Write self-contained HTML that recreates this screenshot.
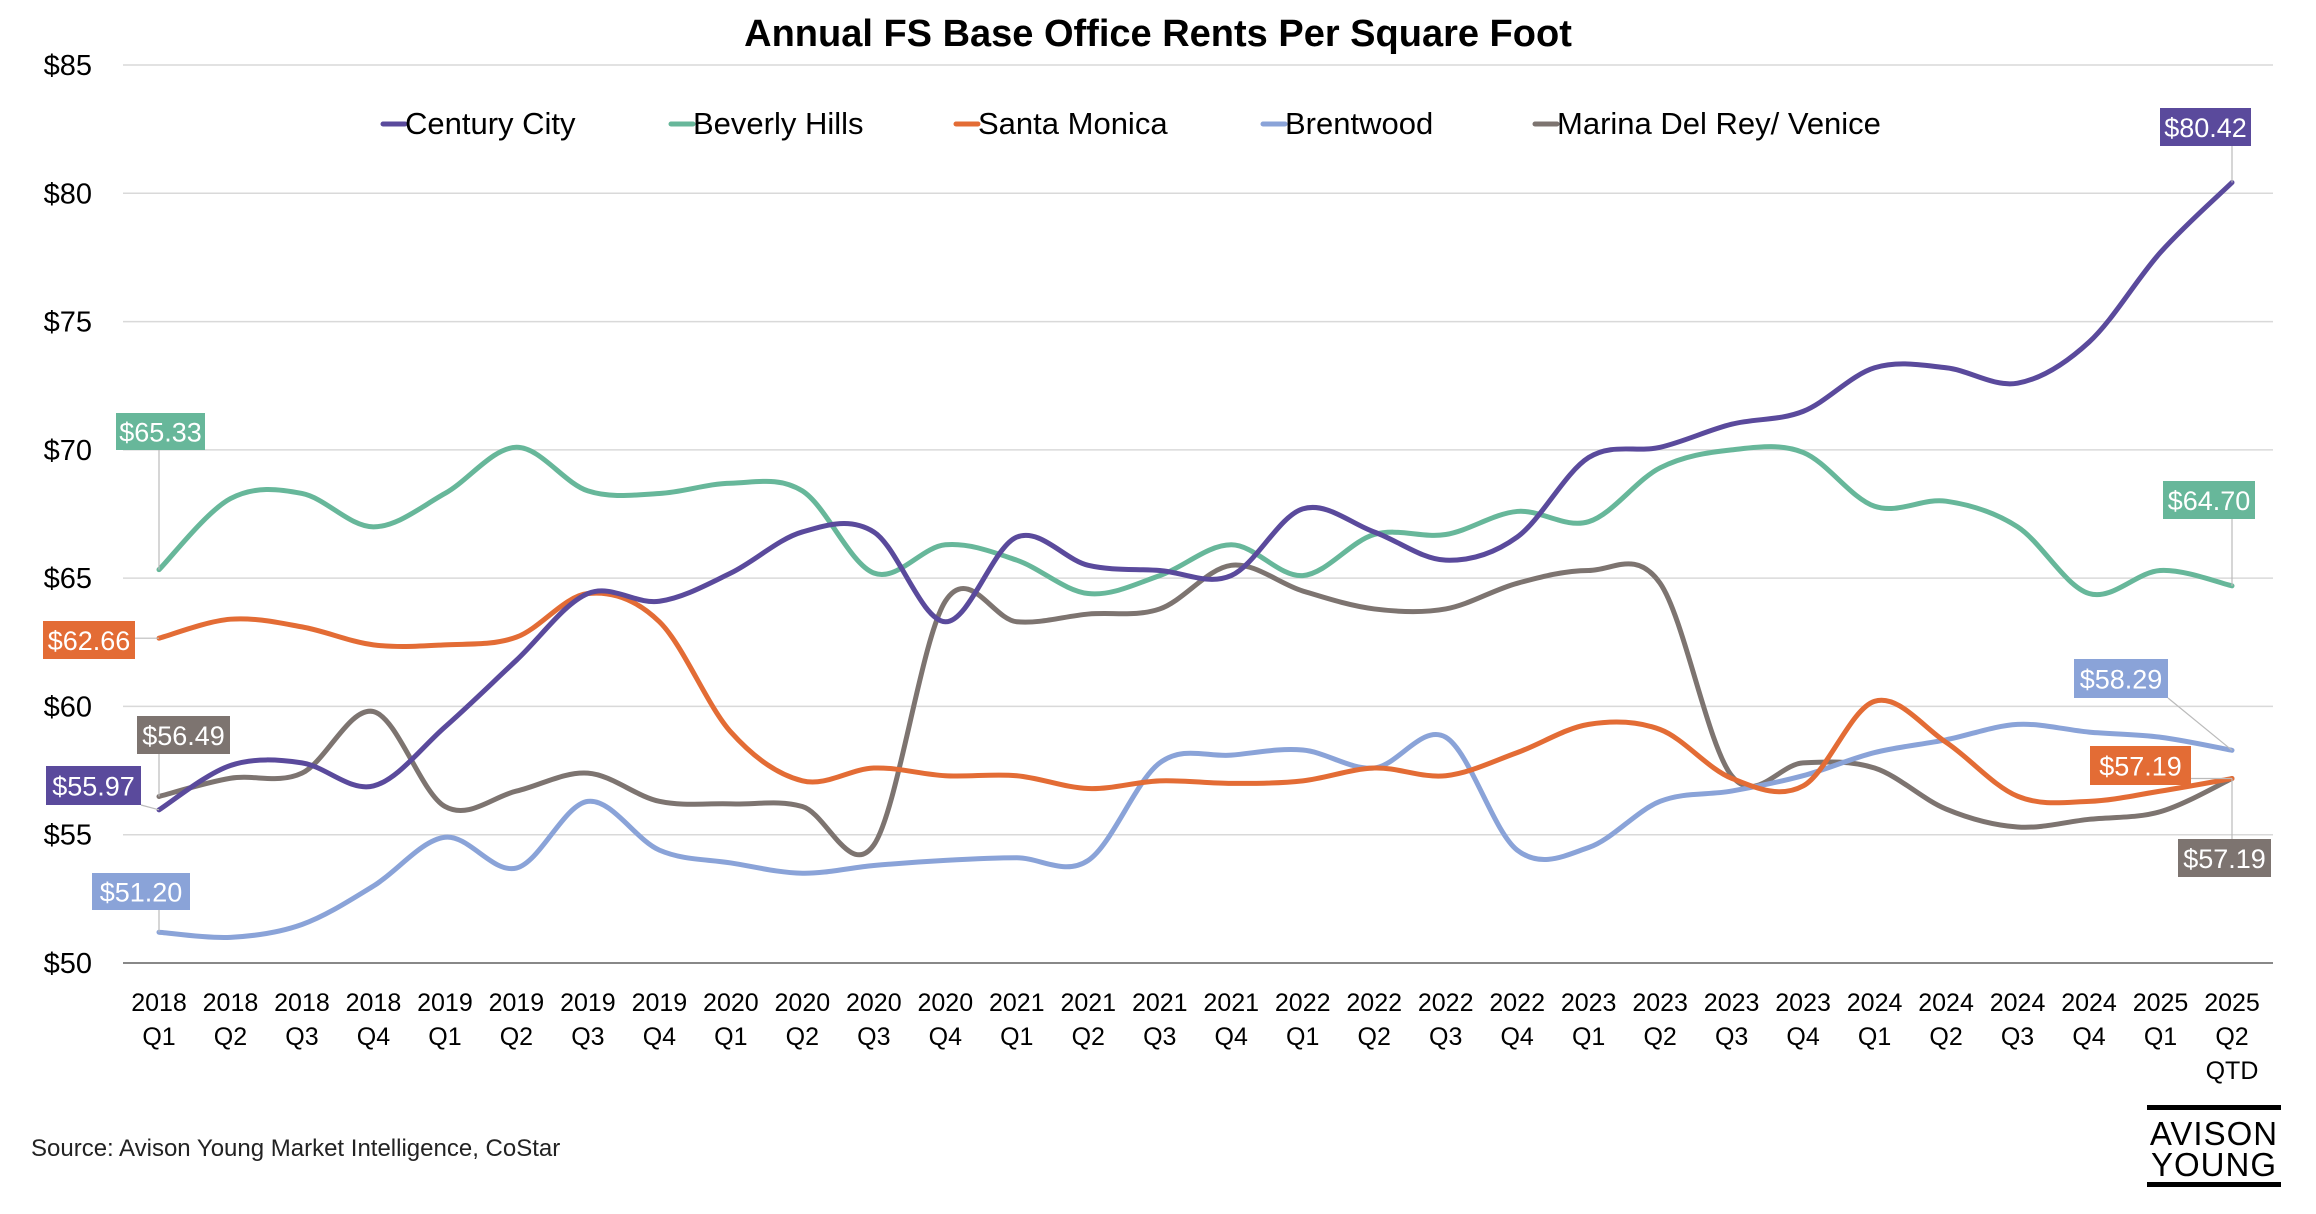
<!DOCTYPE html>
<html><head><meta charset="utf-8">
<style>
html,body{margin:0;padding:0;background:#fff;}
svg{display:block;font-family:"Liberation Sans",sans-serif;}
</style></head>
<body>
<svg id="chart" width="2316" height="1214" viewBox="0 0 2316 1214" xmlns="http://www.w3.org/2000/svg">
<text x="1158" y="46" text-anchor="middle" font-size="38" font-weight="bold" fill="#000">Annual FS Base Office Rents Per Square Foot</text>
<g id="grid"></g>
<g id="yticks"></g>
<g id="xticks"></g>
<g id="legend"></g>
<g id="lines"></g>
<g id="labels"></g>
<text x="31" y="1156" font-size="24" fill="#222">Source: Avison Young Market Intelligence, CoStar</text>
<g>
<rect x="2147" y="1105" width="134" height="5" fill="#000"/>
<text x="2214" y="1145" text-anchor="middle" font-size="33" fill="#000" letter-spacing="1">AVISON</text>
<text x="2214" y="1176" text-anchor="middle" font-size="33" fill="#000" letter-spacing="1">YOUNG</text>
<rect x="2147" y="1182" width="134" height="5" fill="#000"/>
</g>
</svg>
<script>
const categories = ["2018|Q1","2018|Q2","2018|Q3","2018|Q4","2019|Q1","2019|Q2","2019|Q3","2019|Q4","2020|Q1","2020|Q2","2020|Q3","2020|Q4","2021|Q1","2021|Q2","2021|Q3","2021|Q4","2022|Q1","2022|Q2","2022|Q3","2022|Q4","2023|Q1","2023|Q2","2023|Q3","2023|Q4","2024|Q1","2024|Q2","2024|Q3","2024|Q4","2025|Q1","2025|Q2|QTD"];
const centuryCity = [55.97,57.7,57.8,56.9,59.2,61.8,64.4,64.1,65.2,66.8,66.8,63.3,66.6,65.5,65.3,65.1,67.7,66.8,65.7,66.6,69.7,70.1,71.0,71.5,73.2,73.2,72.6,74.2,77.7,80.42];
const beverlyHills = [65.33,68.1,68.3,67.0,68.3,70.1,68.4,68.3,68.7,68.4,65.2,66.3,65.7,64.4,65.1,66.3,65.1,66.7,66.7,67.6,67.2,69.3,70.0,69.9,67.8,68.0,67.0,64.4,65.3,64.70];
const santaMonica = [62.66,63.4,63.1,62.4,62.4,62.7,64.4,63.3,59.0,57.1,57.6,57.3,57.3,56.8,57.1,57.0,57.1,57.6,57.3,58.2,59.3,59.1,57.2,56.9,60.2,58.6,56.5,56.3,56.7,57.19];
const brentwood = [51.20,51.0,51.5,53.0,54.9,53.7,56.3,54.4,53.9,53.5,53.8,54.0,54.1,54.0,57.8,58.1,58.3,57.6,58.8,54.4,54.5,56.3,56.7,57.3,58.2,58.7,59.3,59.0,58.8,58.29];
const marinaDelRey = [56.49,57.2,57.4,59.8,56.1,56.7,57.4,56.3,56.2,56.1,54.6,64.1,63.3,63.6,63.8,65.5,64.5,63.8,63.8,64.8,65.3,64.8,57.3,57.8,57.6,56.0,55.3,55.6,55.9,57.19];
const yTicks = [50,55,60,65,70,75,80,85];
const seriesNames = ["Century City","Beverly Hills","Santa Monica","Brentwood","Marina Del Rey/ Venice"];

const NS="http://www.w3.org/2000/svg";
const X0=159, X1=2232, Y50=963, Y85=65;
function xs(i){return X0+(X1-X0)*i/(categories.length-1);}
function ys(v){return Y50-(v-50)*(Y50-Y85)/35;}
function mk(tag,attrs,parent){const e=document.createElementNS(NS,tag);for(const k in attrs)e.setAttribute(k,attrs[k]);parent.appendChild(e);return e;}

const grid=document.getElementById('grid'), yt=document.getElementById('yticks');
yTicks.forEach(v=>{
  const l=mk('line',{x1:123,x2:2273,y1:ys(v),y2:ys(v),stroke:v===50?'#888':'#d9d9d9','stroke-width':v===50?2:1.5},grid);
  
  
  const t=mk('text',{x:92,y:ys(v)+10,'text-anchor':'end','font-size':29,fill:'#000'},yt);
  t.textContent='$'+v;
  
  
});
const xt=document.getElementById('xticks');
categories.forEach((c,i)=>{
  const parts=c.split('|');
  parts.forEach((p,j)=>{
    const t=mk('text',{x:xs(i),y:1011+j*34,'text-anchor':'middle','font-size':25,fill:'#000'},xt);
    t.textContent=p;
    
    
  });
});
const colors=['#5a4a9c','#67b79a','#e36c35','#8aa3d8','#7d7470'];
const data=[centuryCity,beverlyHills,santaMonica,brentwood,marinaDelRey];
const slugs=['century-city','beverly-hills','santa-monica','brentwood','marina-del-rey'];
function path(vals){
  const p=vals.map((v,i)=>[xs(i),ys(v)]);
  let d='M'+p[0][0]+','+p[0][1];
  for(let i=0;i<p.length-1;i++){
    const p0=p[Math.max(i-1,0)],p1=p[i],p2=p[i+1],p3=p[Math.min(i+2,p.length-1)];
    const t=6;
    d+=' C'+(p1[0]+(p2[0]-p0[0])/t)+','+(p1[1]+(p2[1]-p0[1])/t)+' '+(p2[0]-(p3[0]-p1[0])/t)+','+(p2[1]-(p3[1]-p1[1])/t)+' '+p2[0]+','+p2[1];
  }
  return d;
}
const lines=document.getElementById('lines');
[4,3,2,1,0].forEach(k=>{
  const e=mk('path',{d:path(data[k]),fill:'none',stroke:colors[k],'stroke-width':5,'stroke-linecap':'round','stroke-linejoin':'round'},lines);
  
  
});
const leg=document.getElementById('legend');
const legX=[383,671,956,1263,1535];
seriesNames.forEach((n,k)=>{
  const g=mk('g',{},leg);
  
  
  mk('line',{x1:legX[k],x2:legX[k]+22,y1:124,y2:124,stroke:colors[k],'stroke-width':5,'stroke-linecap':'round'},g);
  const t=mk('text',{x:legX[k]+22,y:134,'font-size':31,fill:'#000'},g);
  t.textContent=n;
});
const lab=document.getElementById('labels');
const last=categories.length-1;
const labelDefs=[
  [0,0,46,766,95,39],[1,0,116,413,89,37],[2,0,43,621,92,38],[4,0,137,716,93,38],[3,0,92,873,98,37],
  [0,last,2160,108,91,38],[1,last,2163,481,92,38],[3,last,2074,659,94,39],[2,last,2090,746,101,39],[4,last,2178,839,93,38]
];
labelDefs.forEach(([k,i,bx,by,bw,bh])=>{
  const v=data[k][i];
  const g=mk('g',{},lab);
  
  
  const px=xs(i),py=ys(v);
  const cx=Math.max(bx,Math.min(bx+bw,px)), cy=Math.max(by,Math.min(by+bh,py));
  mk('line',{x1:px,y1:py,x2:cx,y2:cy,stroke:'#bbb','stroke-width':1.2},g);
  mk('rect',{x:bx,y:by,width:bw,height:bh,fill:colors[k]},g);
  const t=mk('text',{x:bx+bw/2,y:by+bh/2+10,'text-anchor':'middle','font-size':27,fill:'#fff'},g);
  t.textContent='$'+v.toFixed(2);
});
</script>
</body></html>
